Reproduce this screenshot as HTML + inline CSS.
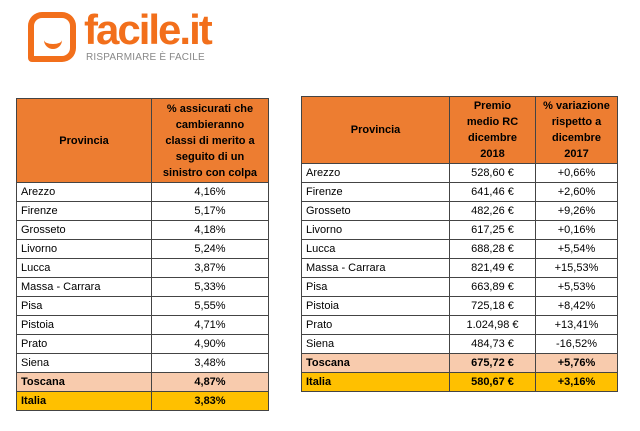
<!DOCTYPE html>
<html><head><meta charset="utf-8"><style>
body{margin:0;width:640px;height:431px;background:#fff;position:relative;font-family:"Liberation Sans",Arial,sans-serif;overflow:hidden}
table{position:absolute;border-collapse:collapse;font-size:11px;color:#000;table-layout:fixed}
td{border:1px solid #444;padding:0 4px;height:18px;line-height:12px}
th{background:#ED7D31;border:1px solid #444;font-weight:bold;font-size:11px;line-height:16px;padding:0 8px}
td.c{text-align:center}
tr.t td{background:#F8CBAD;font-weight:bold}
tr.i td{background:#FFC000;font-weight:bold}
.logo{position:absolute;left:28px;top:12px;border:6px solid #F26F1B;border-radius:14px 14px 14px 4px;box-sizing:border-box;width:48px;height:50px}
.smile{position:absolute;left:10px;top:20px;width:18px;height:6px;border-bottom:5px solid #F26F1B;border-radius:0 0 10px 10px}
.ft{position:absolute;left:84px;top:6px;font-size:42px;font-weight:bold;color:#F26F1B;letter-spacing:-2px}
.sub{position:absolute;left:86px;top:52px;font-size:10px;color:#888;letter-spacing:0.2px}
</style></head><body>
<div class="logo"><div class="smile"></div></div>
<div class="ft">facile.it</div>
<div class="sub">RISPARMIARE È FACILE</div>

<table style="left:16px;top:98px;width:252px">
<colgroup><col style="width:135px"><col style="width:117px"></colgroup>
<tr><th style="height:83px">Provincia</th><th style="padding:0 10px">% assicurati che cambieranno classi di merito a seguito di un sinistro con colpa</th></tr>
<tr><td>Arezzo</td><td class="c">4,16%</td></tr>
<tr><td>Firenze</td><td class="c">5,17%</td></tr>
<tr><td>Grosseto</td><td class="c">4,18%</td></tr>
<tr><td>Livorno</td><td class="c">5,24%</td></tr>
<tr><td>Lucca</td><td class="c">3,87%</td></tr>
<tr><td>Massa - Carrara</td><td class="c">5,33%</td></tr>
<tr><td>Pisa</td><td class="c">5,55%</td></tr>
<tr><td>Pistoia</td><td class="c">4,71%</td></tr>
<tr><td>Prato</td><td class="c">4,90%</td></tr>
<tr><td>Siena</td><td class="c">3,48%</td></tr>
<tr class="t"><td>Toscana</td><td class="c">4,87%</td></tr>
<tr class="i"><td>Italia</td><td class="c">3,83%</td></tr>
</table>

<table style="left:301px;top:96px;width:316px">
<colgroup><col style="width:148px"><col style="width:86px"><col style="width:82px"></colgroup>
<tr><th style="height:66px">Provincia</th><th style="padding:0 12px">Premio medio RC dicembre 2018</th><th style="padding:0 4px">% variazione rispetto a dicembre 2017</th></tr>
<tr><td>Arezzo</td><td class="c">528,60 €</td><td class="c">+0,66%</td></tr>
<tr><td>Firenze</td><td class="c">641,46 €</td><td class="c">+2,60%</td></tr>
<tr><td>Grosseto</td><td class="c">482,26 €</td><td class="c">+9,26%</td></tr>
<tr><td>Livorno</td><td class="c">617,25 €</td><td class="c">+0,16%</td></tr>
<tr><td>Lucca</td><td class="c">688,28 €</td><td class="c">+5,54%</td></tr>
<tr><td>Massa - Carrara</td><td class="c">821,49 €</td><td class="c">+15,53%</td></tr>
<tr><td>Pisa</td><td class="c">663,89 €</td><td class="c">+5,53%</td></tr>
<tr><td>Pistoia</td><td class="c">725,18 €</td><td class="c">+8,42%</td></tr>
<tr><td>Prato</td><td class="c">1.024,98 €</td><td class="c">+13,41%</td></tr>
<tr><td>Siena</td><td class="c">484,73 €</td><td class="c">-16,52%</td></tr>
<tr class="t"><td>Toscana</td><td class="c">675,72 €</td><td class="c">+5,76%</td></tr>
<tr class="i"><td>Italia</td><td class="c">580,67 €</td><td class="c">+3,16%</td></tr>
</table>
</body></html>
